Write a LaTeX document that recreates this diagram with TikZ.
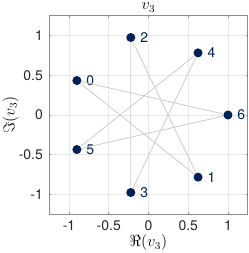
\documentclass[tikz,border=0pt]{standalone}
\usepackage{fontspec}
\setmainfont{TeX Gyre Heros}
\usetikzlibrary{positioning}
\definecolor{navyblue}{RGB}{0,33,87}
\definecolor{gridgray}{gray}{0.91}
\definecolor{edgegray}{gray}{0.8}
\definecolor{boxgray}{gray}{0.55}
\definecolor{ticktext}{gray}{0.15}

\begin{document}
\begin{tikzpicture}[x=2.1cm,y=2.1cm,
		vertex/.style={circle,fill=navyblue,inner sep=0pt,minimum size=6.8pt,label distance=-0.6pt},
		edge/.style={edgegray,line width=0.6pt},
		axislabel/.style={font=\fontsize{12}{14}\selectfont},
		ticklabel/.style={font=\fontsize{10.5}{12}\selectfont,text=ticktext,inner sep=4.5pt}]
				\useasboundingbox (-1.868,-1.736) rectangle (1.264,1.447);
				% grid and axes box
				\foreach \t in {-1,-0.5,0,0.5,1}
				{\draw[gridgray,line width=0.4pt] (\t,-1.25)--(\t,1.25);
				\draw[gridgray,line width=0.4pt] (-1.25,\t)--(1.25,\t);}
				\draw[boxgray,line width=0.5pt] (-1.25,-1.25) rectangle (1.25,1.25);
				\foreach \x in {-1,-0.5,0,0.5,1}
				{\draw[boxgray] (\x,-1.222)--(\x,-1.25) node[below,ticklabel] {\x};
				\draw[boxgray] (\x,1.222)--(\x,1.25);}
				\foreach \y in {-1,-0.5,0,0.5,1}
				{\draw[boxgray] (-1.222,\y)--(-1.25,\y) node[left,ticklabel] {\y};
				\draw[boxgray] (1.222,\y)--(1.25,\y);}
				\node[axislabel,inner sep=0pt] (title) at (0,1.35) {$v_3$};
				\node[axislabel] (xlab) at (0,-1.61) {$\Re(v_3)$};
				\node[axislabel,rotate=90] (ylab) at (-1.735,0) {$\Im(v_3)$};
				% vertices of the cycle
				\foreach \k in {0,...,6}
				\node[vertex,label={[navyblue,font=\fontsize{10.5}{12}\selectfont]right:\k}] (v\k) at ({3*(\k+1)*360/7}:1) {};
				\foreach \k [evaluate=\k as \n using {int(mod(\k+1,7))}] in {0,...,6}
				\draw[edge] (v\k)--(v\n);
			\end{tikzpicture}
\end{document}
